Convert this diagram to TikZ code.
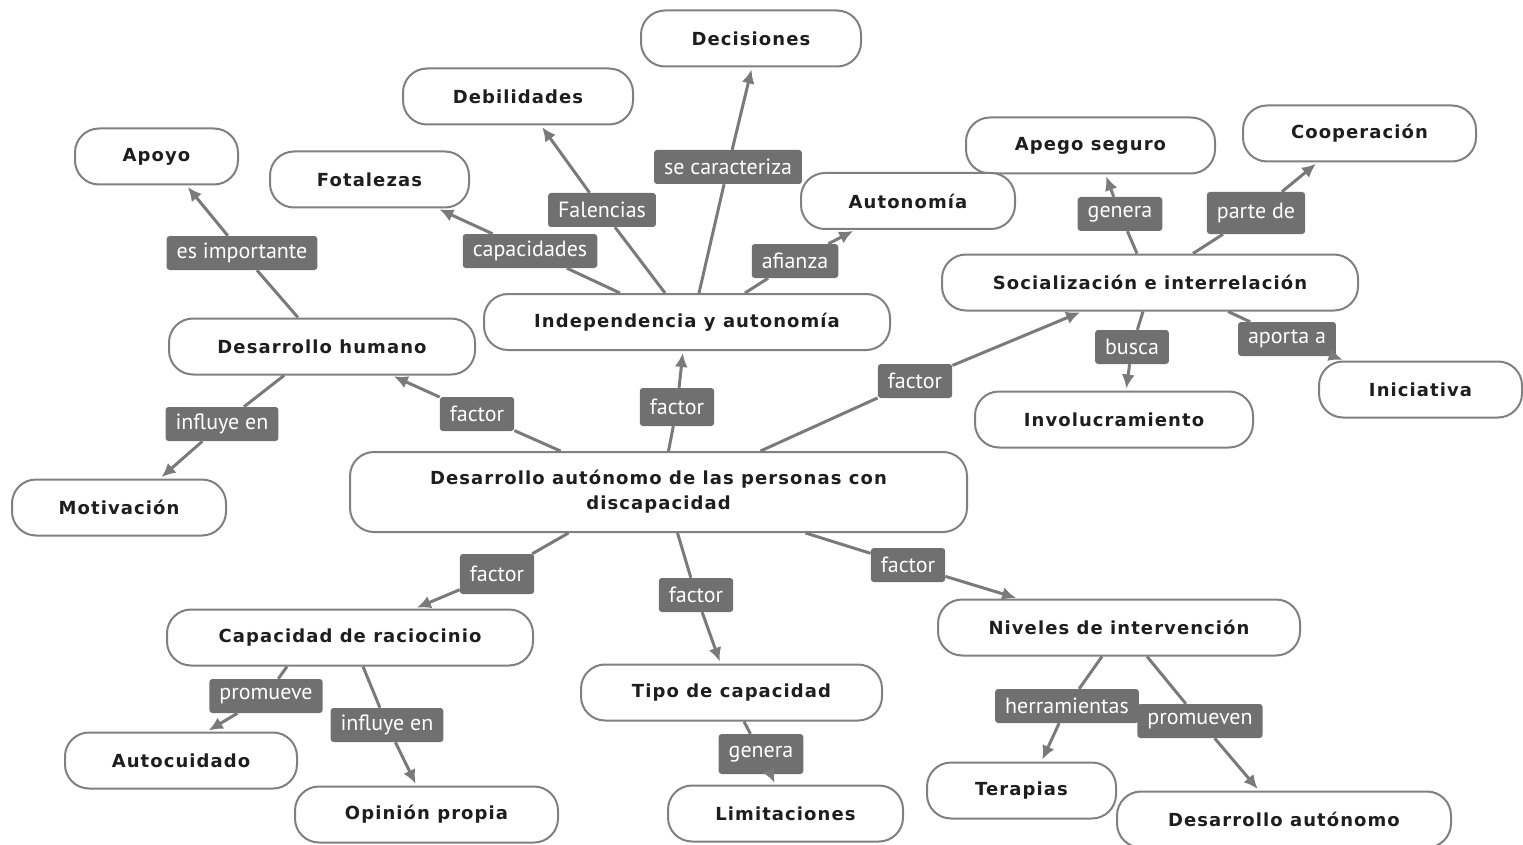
\documentclass[tikz,border=0pt]{standalone}
\usepackage{fontspec}
\setmainfont{DejaVu Sans}
\newfontfamily\cfont[LetterSpace=6]{DejaVu Sans}
\newfontfamily\lfont{PT Sans}
\usetikzlibrary{arrows.meta}
\definecolor{cgray}{HTML}{808080}
\definecolor{lgray}{HTML}{707070}
\definecolor{agray}{HTML}{7A7A7A}
\definecolor{ctext}{HTML}{1E1E1E}
\begin{document}
\begin{tikzpicture}[x=1pt,y=-1pt,
  concept/.style={draw=cgray, line width=2pt, fill=white, rounded corners=24pt,
    font=\cfont\bfseries\fontsize{18}{25}\selectfont, text=ctext, inner sep=0pt,
    minimum height=56pt, align=center},
  lab/.style={fill=lgray, text=white, rounded corners=3pt,
    font=\lfont\fontsize{22}{24}\selectfont, minimum height=34pt,
    inner xsep=10pt, inner ysep=0pt},
  conn/.style={draw=agray, line width=3pt},
  arr/.style={conn, -{Latex[length=14pt,width=13pt]}, shorten >=2pt}]
\useasboundingbox (0,0) rectangle (1523,845);
% concept nodes
\node[concept, minimum width=220pt] (dec) at (751,38.5) {Decisiones};
\node[concept, minimum width=230pt] (deb) at (518,96.5) {Debilidades};
\node[concept, minimum width=163pt] (apo) at (156.5,156.5) {Apoyo};
\node[concept, minimum width=199pt] (fot) at (369.5,179.5) {Fotalezas};
\node[concept, minimum width=249pt] (ape) at (1090.5,145.5) {Apego seguro};
\node[concept, minimum width=233pt] (coo) at (1359.5,133.5) {Cooperación};
\node[concept, minimum width=214pt] (aut) at (908,201) {Autonomía};
\node[concept, minimum width=416pt] (soc) at (1150,282.5) {Socialización e interrelación};
\node[concept, minimum width=406pt] (ind) at (687,322) {Independencia y autonomía};
\node[concept, minimum width=306pt] (dh) at (322,346.5) {Desarrollo humano};
\node[concept, minimum width=278pt] (inv) at (1114,419.5) {Involucramiento};
\node[concept, minimum width=203pt] (ini) at (1420.5,389.5) {Iniciativa};
\node[concept, minimum width=617pt, minimum height=80pt] (cen) at (658.5,492)
  {Desarrollo autónomo de las personas con\\discapacidad};
\node[concept, minimum width=214pt] (mot) at (119,507.5) {Motivación};
\node[concept, minimum width=366pt] (cap) at (350,637.5) {Capacidad de raciocinio};
\node[concept, minimum width=362pt] (niv) at (1119,627.5) {Niveles de intervención};
\node[concept, minimum width=301pt] (tip) at (731.5,692.5) {Tipo de capacidad};
\node[concept, minimum width=232pt] (auc) at (181,760.5) {Autocuidado};
\node[concept, minimum width=189pt] (ter) at (1021.5,790.5) {Terapias};
\node[concept, minimum width=263pt] (opi) at (426.5,814.5) {Opinión propia};
\node[concept, minimum width=235pt] (lim) at (785.5,813.5) {Limitaciones};
\node[concept, minimum width=334pt] (da) at (1284,819.5) {Desarrollo autónomo};
% label nodes
\node[lab] (l1) at (477,414) {factor};
\node[lab, minimum height=38pt] (l2) at (677,407) {factor};
\node[lab] (l3) at (915,381) {factor};
\node[lab, minimum height=40pt] (l4) at (497,574) {factor};
\node[lab] (l5) at (696,595) {factor};
\node[lab] (l6) at (908,565) {factor};
\node[lab] (l7) at (242,253) {es importante};
\node[lab] (l8) at (222,424) {influye en};
\node[lab] (l9) at (530,251) {capacidades};
\node[lab] (l10) at (602,210) {Falencias};
\node[lab] (l11) at (728,167) {se caracteriza};
\node[lab] (l12) at (795,261) {afianza};
\node[lab] (l13) at (1120,214) {genera};
\node[lab, minimum height=42pt] (l14) at (1256,213) {parte de};
\node[lab] (l15) at (1132,347) {busca};
\node[lab] (l16) at (1287,339) {aporta a};
\node[lab] (l17) at (266,696) {promueve};
\node[lab] (l18) at (387,725) {influye en};
\node[lab, minimum height=40pt] (l19) at (761,754) {genera};
\node[lab] (l20) at (1067,706) {herramientas};
\node[lab] (l21) at (1200,721) {promueven};
% connectors
\draw[conn] ([xshift=-98pt]cen.north) -- (l1);
\draw[arr] (l1) -- ([xshift=70pt]dh.south);
\draw[conn] ([xshift=10pt]cen.north) -- (l2);
\draw[arr] (l2) -- ([xshift=-4pt]ind.south);
\draw[conn] ([xshift=102pt]cen.north) -- (l3);
\draw[arr] (l3) -- ([xshift=-68pt]soc.south);
\draw[conn] ([xshift=-90pt]cen.south) -- (l4);
\draw[arr] (l4) -- ([xshift=65pt]cap.north);
\draw[conn] ([xshift=19pt]cen.south) -- (l5);
\draw[arr] (l5) -- ([xshift=-11pt]tip.north);
\draw[conn] ([xshift=147pt]cen.south) -- (l6);
\draw[arr] (l6) -- ([xshift=-101pt]niv.north);
\draw[conn] ([xshift=-24pt]dh.north) -- (l7);
\draw[arr] (l7) -- ([xshift=30pt]apo.south);
\draw[conn] ([xshift=-38pt]dh.south) -- (l8);
\draw[arr] (l8) -- ([xshift=41pt]mot.north);
\draw[conn] ([xshift=-67pt]ind.north) -- (l9);
\draw[arr] (l9) -- ([xshift=68pt]fot.south);
\draw[conn] ([xshift=-22pt]ind.north) -- (l10);
\draw[arr] (l10) -- ([xshift=23pt]deb.south);
\draw[conn] ([xshift=12pt]ind.north) -- (l11);
\draw[arr] (l11) -- ([xshift=1pt]dec.south);
\draw[conn] ([xshift=58pt]ind.north) -- (l12);
\draw[arr] (l12) -- ([xshift=-53pt]aut.south);
\draw[conn] ([xshift=-13pt]soc.north) -- (l13);
\draw[arr] (l13) -- ([xshift=15pt]ape.south);
\draw[conn] ([xshift=43pt]soc.north) -- (l14);
\draw[arr] (l14) -- ([xshift=-42pt]coo.south);
\draw[conn] ([xshift=-7pt]soc.south) -- (l15);
\draw[arr] (l15) -- ([xshift=12pt]inv.north);
\draw[conn] ([xshift=78pt]soc.south) -- (l16);
\draw[arr] (l16) -- ([xshift=-76pt]ini.north);
\draw[conn] ([xshift=-63pt]cap.south) -- (l17);
\draw[arr] (l17) -- ([xshift=26pt]auc.north);
\draw[conn] ([xshift=13pt]cap.south) -- (l18);
\draw[arr] (l18) -- ([xshift=-10pt]opi.north);
\draw[conn] ([xshift=12.5pt]tip.south) -- (l19);
\draw[arr] (l19) -- ([xshift=-10pt]lim.north);
\draw[conn] ([xshift=-17pt]niv.south) -- (l20);
\draw[arr] (l20) -- ([xshift=20pt]ter.north);
\draw[conn] ([xshift=28pt]niv.south) -- (l21);
\draw[arr] (l21) -- ([xshift=-25pt]da.north);
\end{tikzpicture}
\end{document}
